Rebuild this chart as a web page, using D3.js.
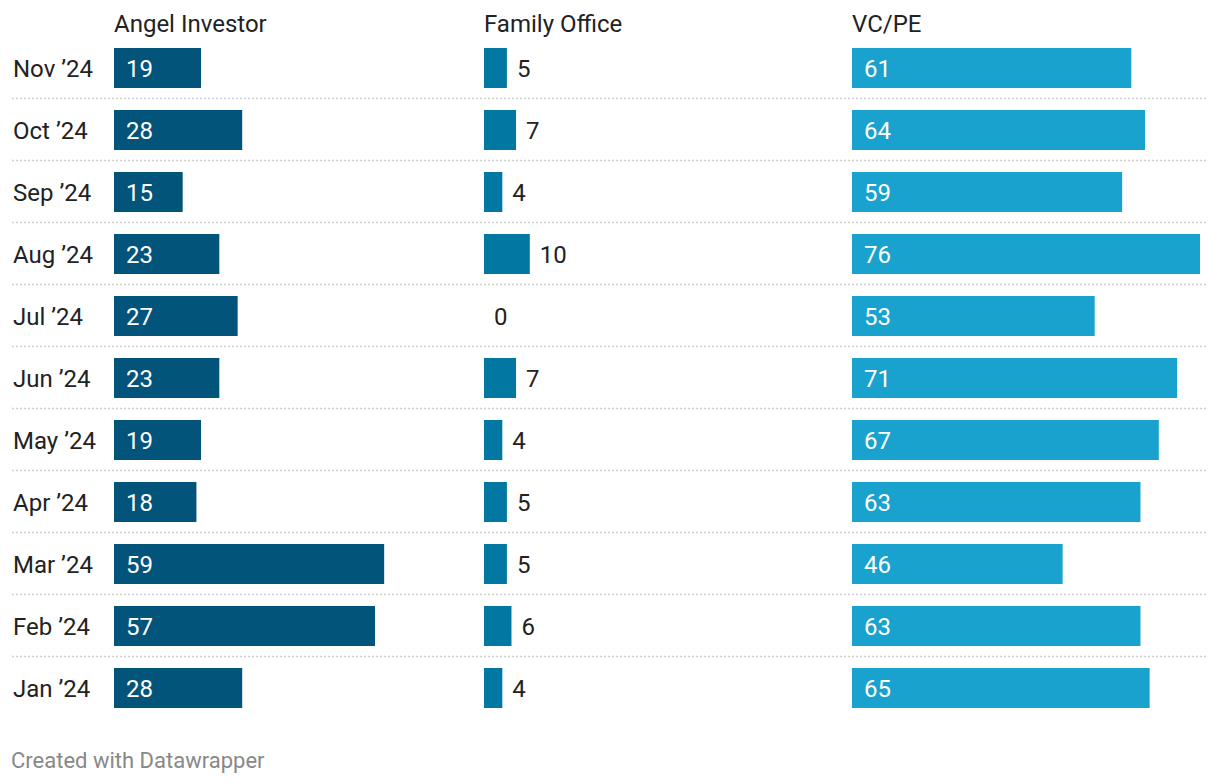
<!DOCTYPE html>
<html><head><meta charset="utf-8">
<script src="https://cdn.jsdelivr.net/npm/d3@7"></script>
<style>
body{margin:0;background:#fff;}
text{font-family:Roboto,"Noto Sans",sans-serif;font-weight:400;}
</style></head>
<body><svg id="c" width="1220" height="784"></svg>
<script>
const months = ["Nov ’24","Oct ’24","Sep ’24","Aug ’24","Jul ’24","Jun ’24","May ’24","Apr ’24","Mar ’24","Feb ’24","Jan ’24"];
const seriesNames = ["Angel Investor","Family Office","VC/PE"];
const angel = [19,28,15,23,27,23,19,18,59,57,28];
const family = [5,7,4,10,0,7,4,5,5,6,4];
const vcpe = [61,64,59,76,53,71,67,63,46,63,65];
const colors = ["#03547a","#0177a1","#19a2cd"];

const svg = d3.select("#c");
const series = [angel, family, vcpe];
const colX = [114, 484, 852];
const x = d3.scaleLinear().domain([0, 76]).range([0, 348]);
const y = d3.scaleBand().domain(months).range([37, 719]).paddingInner(22/62).paddingOuter(11/62);

svg.selectAll("line.sep").data(months.slice(1)).join("line")
  .attr("x1", 12).attr("x2", 1208)
  .attr("y1", d => y(d) - 11.5).attr("y2", d => y(d) - 11.5)
  .attr("stroke", "#d0d0d0").attr("stroke-width", 1.5).attr("stroke-dasharray", "2,2");

svg.selectAll("text.lab").data(months).join("text")
  .attr("x", 13).attr("y", d => y(d) + y.bandwidth()/2 + 8.5)
  .attr("font-size", 24).attr("fill", "#222").text(d => d);

series.forEach((vals, si) => {
  const g = svg.append("g").attr("transform", `translate(${colX[si]},0)`);
  g.append("text").attr("x", 0).attr("y", 32).attr("font-size", 24).attr("fill", "#222").text(seriesNames[si]);
  g.selectAll("rect").data(vals).join("rect")
    .attr("x", 0).attr("y", (d,i) => y(months[i]))
    .attr("width", d => x(d)).attr("height", y.bandwidth())
    .attr("fill", colors[si]);
  g.selectAll("text.v").data(vals).join("text")
    .attr("x", d => x(d) > 55 ? 12 : x(d) + 10)
    .attr("y", (d,i) => y(months[i]) + y.bandwidth()/2 + 8.5)
    .attr("font-size", 24)
    .attr("fill", d => x(d) > 55 ? "#fff" : "#222")
    .text(d => d);
});

svg.append("text").attr("x", 11).attr("y", 768).attr("font-size", 22).attr("fill", "#888").text("Created with Datawrapper");
</script></body></html>
